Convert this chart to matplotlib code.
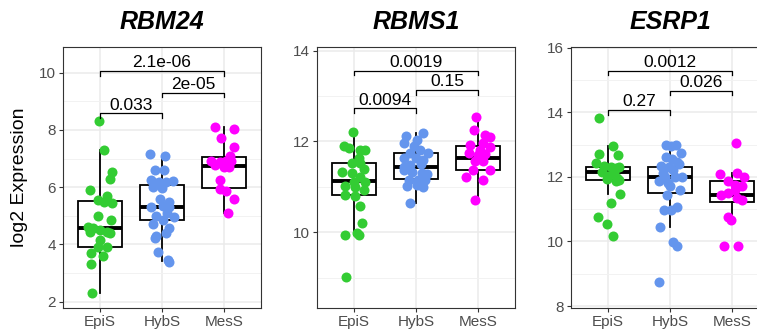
import numpy as np
import matplotlib.pyplot as plt
from matplotlib.ticker import MultipleLocator

plt.rcParams['font.family'] = ['Liberation Sans', 'DejaVu Sans']

groups = ["EpiS", "HybS", "MesS"]
genes = ["RBM24", "RBMS1", "ESRP1"]
group_colors = ["#33CC33", "#6495ED", "#FF00FF"]

# ---- RBM24 ----
rbm24_epis = [8.31, 7.31, 6.53, 6.29, 5.91, 5.71, 5.57, 5.49, 5.45, 5.0, 4.86, 4.62,
              4.59, 4.5, 4.45, 4.44, 4.41, 4.16, 3.92, 3.92, 3.71, 3.6, 3.32, 2.29]
rbm24_hybs = [7.15, 7.08, 6.6, 6.6, 6.25, 6.2, 6.2, 6.22, 6.15, 6.0, 5.97, 5.6, 5.5, 5.32,
              5.35, 5.3, 5.1, 5.0, 4.95, 4.86, 4.7, 4.57, 4.4, 4.3, 4.22, 3.75, 3.46, 3.4]
rbm24_mess = [8.12, 8.03, 7.72, 7.42, 7.1, 6.9, 6.88, 6.9, 6.92, 6.78, 6.72, 6.7, 6.26,
              5.93, 5.88, 5.58, 5.09]
# q1, median, q3, lower whisker, upper whisker
rbm24_box = [(3.92, 4.59, 5.52, 2.29, 7.31),
             (4.86, 5.32, 6.08, 3.42, 7.1),
             (5.99, 6.75, 7.05, 5.09, 8.12)]
rbm24_pvals = ["0.033", "2e-05", "2.1e-06"]

# ---- RBMS1 ----
rbms1_epis = [12.21, 11.9, 11.85, 11.82, 11.82, 11.63, 11.53, 11.52, 11.39, 11.33, 11.3,
              11.21, 11.11, 11.11, 11.02, 10.99, 10.93, 10.82, 10.8, 10.58, 10.2, 9.98,
              9.94, 9.94, 9.02]
rbms1_hybs = [12.12, 12.18, 11.96, 12.03, 11.9, 11.81, 11.74, 11.75, 11.63, 11.63, 11.59,
              11.44, 11.48, 11.5, 11.36, 11.33, 11.3, 11.28, 11.15, 11.16, 11.15, 11.02,
              10.99, 11.04, 10.64]
rbms1_mess = [12.54, 12.25, 12.14, 12.1, 11.92, 11.96, 11.82, 11.88, 11.75, 11.7, 11.72,
              11.57, 11.57, 11.38, 11.38, 11.21, 11.16, 10.7]
rbms1_box = [(10.81, 11.13, 11.53, 9.94, 12.21),
             (11.17, 11.44, 11.74, 10.64, 12.18),
             (11.37, 11.64, 11.9, 10.7, 12.54)]
rbms1_pvals = ["0.0094", "0.15", "0.0019"]

# ---- ESRP1 ----
esrp1_epis = [13.81, 12.94, 12.71, 12.68, 12.42, 12.35, 12.3, 12.28, 12.32, 12.16, 12.11,
              12.02, 11.95, 11.92, 11.88, 11.9, 11.47, 11.18, 10.77, 10.54, 10.18]
esrp1_hybs = [12.99, 12.99, 12.95, 12.75, 12.6, 12.55, 12.45, 12.4, 12.35, 12.3, 12.2,
              12.12, 12.0, 12.0, 11.98, 11.86, 11.8, 11.72, 11.6, 11.45, 11.08, 10.98,
              10.98, 10.44, 9.97, 9.85, 8.73]
esrp1_mess = [13.04, 12.09, 12.13, 11.98, 11.88, 11.75, 11.72, 11.44, 11.49, 11.6, 11.34,
              11.27, 10.75, 10.65, 9.87, 9.87]
esrp1_box = [(11.9, 12.15, 12.32, 11.47, 12.94),
             (11.49, 11.99, 12.29, 10.44, 12.99),
             (11.21, 11.45, 11.86, 10.65, 12.13)]
esrp1_pvals = ["0.27", "0.026", "0.0012"]

# horizontal jitter of each point (category units)
jitter = {
    "RBM24": [
        [-0.02, 0.07, 0.19, 0.16, -0.17, 0.11, -0.03, 0.06, 0.19, -0.03, 0.18, -0.19,
         -0.11, 0.0, -0.16, 0.11, 0.16, -0.01, -0.03, 0.11, -0.14, 0.05, -0.15, -0.13],
        [-0.19, 0.05, -0.12, 0.03, -0.17, -0.05, 0.07, 0.18, -0.12, -0.15, 0.0, -0.03,
         0.11, -0.17, 0.02, 0.11, 0.08, -0.09, 0.19, 0.02, -0.14, 0.12, 0.07, -0.1,
         -0.12, -0.06, 0.1, 0.12],
        [-0.14, 0.17, -0.05, 0.17, 0.1, -0.2, -0.07, 0.03, 0.12, -0.15, 0.0, 0.08,
         -0.07, -0.07, 0.04, 0.17, 0.06]],
    "RBMS1": [
        [-0.02, -0.17, -0.09, 0.1, 0.17, 0.08, -0.03, 0.1, 0.16, -0.19, -0.03, 0.09,
         0.17, 0.0, -0.14, 0.01, 0.16, -0.14, 0.02, 0.09, 0.13, 0.05, -0.15, 0.08, -0.13],
        [-0.16, 0.12, -0.19, 0.02, -0.04, 0.07, -0.09, 0.2, -0.19, 0.0, 0.11, -0.2,
         -0.09, 0.08, -0.2, -0.06, 0.1, 0.18, -0.12, 0.04, 0.15, -0.15, 0.12, 0.02, -0.1],
        [-0.03, -0.07, 0.12, 0.19, -0.12, 0.09, 0.03, 0.2, -0.15, 0.0, 0.12, -0.04,
         0.09, -0.08, 0.19, -0.19, 0.08, -0.04]],
    "ESRP1": [
        [-0.15, 0.08, -0.14, 0.16, -0.19, -0.06, 0.04, 0.12, 0.17, -0.1, 0.09, 0.0,
         0.15, -0.02, 0.12, 0.17, 0.19, 0.04, -0.17, -0.02, 0.08],
        [-0.06, 0.1, 0.02, 0.17, -0.07, 0.03, 0.12, 0.15, -0.15, -0.02, 0.05, -0.12,
         0.2, 0.08, -0.08, -0.17, -0.04, 0.0, 0.16, -0.05, 0.11, -0.1, 0.02, -0.16,
         0.05, 0.12, -0.17],
        [0.06, -0.19, 0.08, 0.19, -0.07, 0.05, 0.17, -0.18, -0.07, 0.05, 0.09, 0.16,
         -0.07, -0.02, -0.13, 0.1]],
}

panels = {
    "RBM24": dict(pts=[rbm24_epis, rbm24_hybs, rbm24_mess], box=rbm24_box,
                  pvals=rbm24_pvals, br_y=[8.58, 9.3, 10.06], tip=0.16,
                  ylim=(1.78, 10.9), major=2),
    "RBMS1": dict(pts=[rbms1_epis, rbms1_hybs, rbms1_mess], box=rbms1_box,
                  pvals=rbms1_pvals, br_y=[12.73, 13.13, 13.56], tip=0.1,
                  ylim=(8.33, 14.08), major=2),
    "ESRP1": dict(pts=[esrp1_epis, esrp1_hybs, esrp1_mess], box=esrp1_box,
                  pvals=esrp1_pvals, br_y=[14.07, 14.67, 15.29], tip=0.15,
                  ylim=(7.94, 16.02), major=2),
}
pairs = [(0, 1), (1, 2), (0, 2)]

W, H = 757, 334
fig = plt.figure(figsize=(W / 100, H / 100), dpi=100)
lefts = [63, 317, 571]
ax_w, ax_top, ax_bot = 198, 47, 308

for gene, left in zip(genes, lefts):
    p = panels[gene]
    ax = fig.add_axes([left / W, (H - ax_bot) / H, ax_w / W, (ax_bot - ax_top) / H])

    stats = [dict(q1=b[0], med=b[1], q3=b[2], whislo=b[3], whishi=b[4], fliers=[])
             for b in p["box"]]
    ax.bxp(stats, positions=[0, 1, 2], widths=0.7, patch_artist=True, showcaps=False,
           manage_ticks=False,
           boxprops=dict(facecolor='white', edgecolor='black', linewidth=1.3),
           whiskerprops=dict(color='black', linewidth=1.3),
           medianprops=dict(color='black', linewidth=2.8))

    for i, vals in enumerate(p["pts"]):
        xs = i + np.array(jitter[gene][i])
        ax.scatter(xs, vals, s=52, color=group_colors[i], linewidths=0, zorder=3)

    for (a, b), y, lab in zip(pairs, p["br_y"], p["pvals"]):
        t = p["tip"]
        ax.plot([a, a, b, b], [y - t, y, y, y - t], color='black', lw=0.9, zorder=4)
        ax.annotate(lab, ((a + b) / 2, y), xytext=(0, 0.5), textcoords='offset points',
                    ha='center', va='bottom', fontsize=12.5)

    ax.set_xlim(-0.6, 2.6)
    ax.set_ylim(*p["ylim"])
    ax.yaxis.set_major_locator(MultipleLocator(p["major"]))
    ax.yaxis.set_minor_locator(MultipleLocator(p["major"] / 2))
    ax.set_xticks(range(3))
    ax.set_xticklabels(groups)
    ax.grid(which='major', color='#EBEBEB', lw=1.1)
    ax.grid(which='minor', axis='y', color='#F2F2F2', lw=0.7)
    ax.set_axisbelow(True)
    ax.tick_params(which='major', length=3, width=0.8, color='#333333',
                   labelsize=11, labelcolor='#4D4D4D', pad=2)
    ax.tick_params(which='minor', length=0)
    for s in ax.spines.values():
        s.set_color('#333333')
        s.set_linewidth(0.8)

    fig.text((left + ax_w / 2) / W, 1 - 22 / H, gene, fontsize=18, fontweight='bold',
             fontstyle='italic', ha='center', va='center')

fig.text(20 / W, 1 - 177.5 / H, "log2 Expression", rotation=90, fontsize=14,
         ha='center', va='center')

fig.savefig('out.png', dpi=100)
